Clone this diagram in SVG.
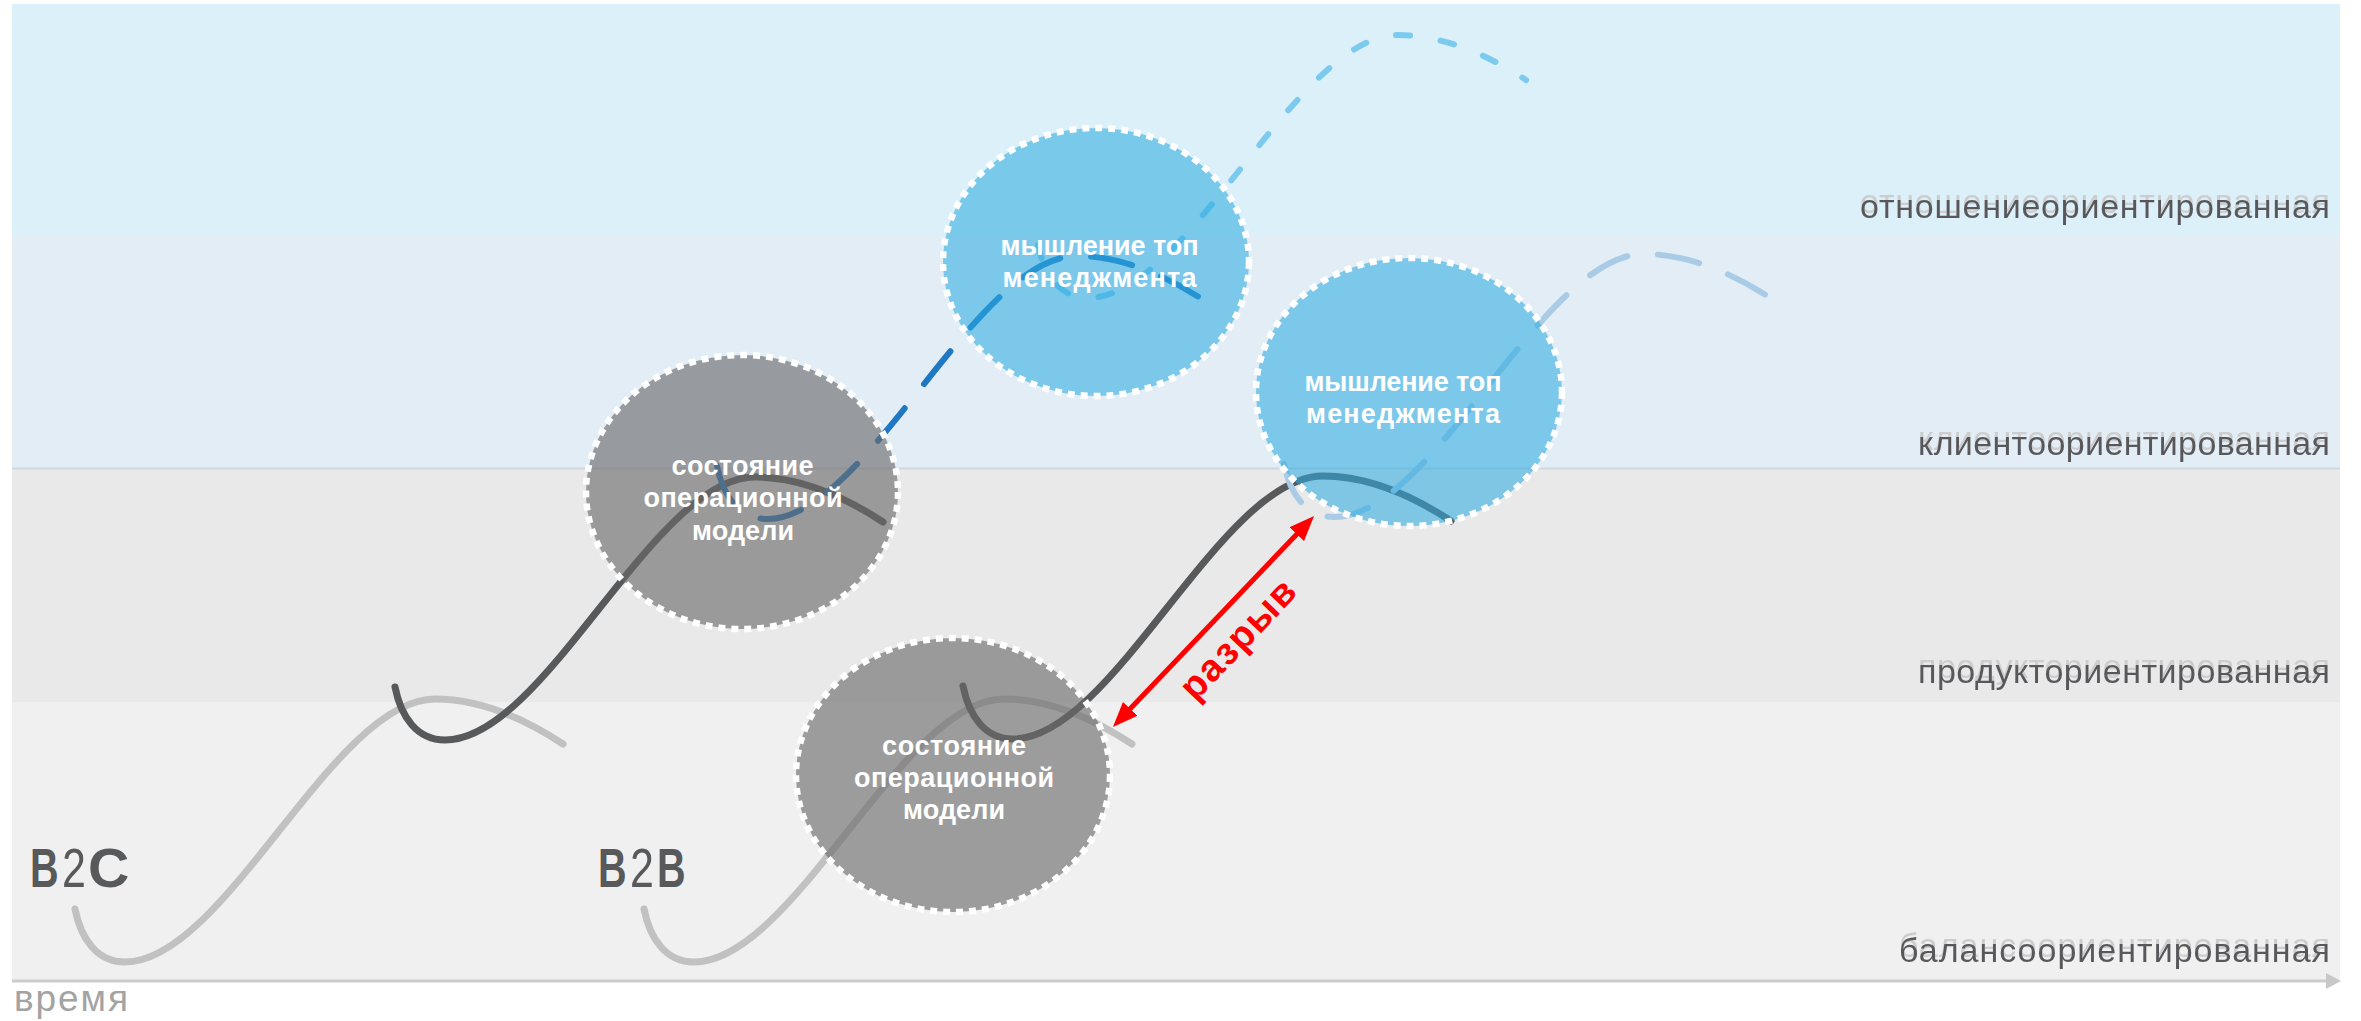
<svg xmlns="http://www.w3.org/2000/svg" width="2361" height="1021" viewBox="0 0 2361 1021">
<defs>
<style>
.band-label{font-family:"Liberation Sans","DejaVu Sans",sans-serif;font-size:34px;fill:#58595b;filter:url(#ghost)}
.node-text{font-family:"Liberation Sans","DejaVu Sans",sans-serif;font-size:27px;font-weight:bold;fill:#ffffff;text-anchor:middle}
.gray-node{fill:#6a6a6a;fill-opacity:0.625;stroke:#ffffff;stroke-width:6.5;stroke-dasharray:7 6}
.blue-node{fill:#2babe1;fill-opacity:0.56;stroke:#ffffff;stroke-width:6.5;stroke-dasharray:7 6}
.wave{fill:none;stroke-width:7;stroke-linecap:round}
.light{stroke:#c1c1c1}
.dark{stroke:#58595b}
.blue{stroke:#1f78c1;stroke-width:6;stroke-dasharray:42 31}
.skyblue{stroke:#7ccbee;stroke-width:6;stroke-dasharray:14 31}
.pale{stroke:#a9cbe6;stroke-width:6;stroke-dasharray:42 31}
.biz{font-family:"Liberation Sans","DejaVu Sans",sans-serif;font-size:55px;fill:#58595b}
.bold{font-weight:bold}
</style>
<filter id="ghost" x="-5%" y="-60%" width="110%" height="220%">
<feFlood flood-color="#cdcdcd" result="f"/>
<feComposite in="f" in2="SourceAlpha" operator="in" result="s"/>
<feOffset in="s" dy="-5" result="o"/>
<feMerge><feMergeNode in="o"/><feMergeNode in="SourceGraphic"/></feMerge>
</filter>
<marker id="redhead" markerUnits="userSpaceOnUse" markerWidth="25" markerHeight="20" refX="10" refY="10" orient="auto-start-reverse" viewBox="0 0 25 20">
<path d="M0,0 L25,10 L0,20 z" fill="#ff0000"/>
</marker>
</defs>

<g id="background">
<rect x="0" y="0" width="2361" height="1021" fill="#ffffff"/>
<rect x="12" y="4" width="2328" height="232" fill="#dcf0f9"/>
<rect x="12" y="236" width="2328" height="232" fill="#e2edf6"/>
<rect x="12" y="468" width="2328" height="234" fill="#e9e9e9"/>
<rect x="12" y="702" width="2328" height="278" fill="#f0f0f0"/>
<line x1="12" y1="468.5" x2="2340" y2="468.5" stroke="#cdd8e2" stroke-width="2"/>
<line x1="12" y1="981" x2="2330" y2="981" stroke="#cccccc" stroke-width="3"/>
<polygon points="2326,973 2341,981 2326,989" fill="#c8c8c8"/>
<text class="band-label" x="1860" y="218" textLength="470">отношениеориентированная</text>
<text class="band-label" x="1918" y="455" textLength="412">клиентоориентированная</text>
<text class="band-label" x="1918" y="683" textLength="412">продукториентированная</text>
<text class="band-label" x="1899" y="962" textLength="431">балансоориентированная</text>
<text x="14" y="1011" font-family="Liberation Sans, DejaVu Sans, sans-serif" font-size="37" fill="#a3a3a3" textLength="114">время</text>
</g>

<g id="connectors">
<path class="wave light" transform="translate(75,909)" d="M0,0 C6,30 22,53 50,53 C150,53 258,-210 360,-210 C405,-210 450,-190 488,-165"/>
<path class="wave light" transform="translate(644,909)" d="M0,0 C6,30 22,53 50,53 C150,53 258,-210 360,-210 C405,-210 450,-190 488,-165"/>
<path class="wave dark" transform="translate(395,687)" d="M0,0 C6,30 22,53 50,53 C150,53 258,-210 360,-210 C405,-210 450,-190 488,-165"/>
<path class="wave dark" transform="translate(963,686)" d="M0,0 C6,30 22,53 50,53 C150,53 258,-210 360,-210 C405,-210 450,-190 488,-165"/>
<path class="wave blue" transform="translate(717,466)" d="M0,0 C6,30 22,53 50,53 C150,53 258,-210 360,-210 C405,-210 450,-190 488,-165"/>
<path class="wave skyblue" transform="translate(1038,245)" d="M0,0 C6,30 22,53 50,53 C150,53 258,-210 360,-210 C405,-210 450,-190 488,-165"/>
<path class="wave pale" transform="translate(1284,464)" d="M0,0 C6,30 22,53 50,53 C150,53 258,-210 360,-210 C405,-210 450,-190 488,-165"/>
<line id="gap-arrow" x1="1123.3" y1="716.1" x2="1303.7" y2="526.9" stroke="#ff0000" stroke-width="5" marker-start="url(#redhead)" marker-end="url(#redhead)"/>
<text x="1247" y="648" transform="rotate(-46.4 1247 648)" font-family="Liberation Sans, DejaVu Sans, sans-serif" font-size="38" font-weight="bold" fill="#ff0000" text-anchor="middle" textLength="150">разрыв</text>
</g>

<g id="node-ops-b2c">
<ellipse class="gray-node" cx="742" cy="492" rx="156" ry="137"/>
<text class="node-text" x="742.5" y="475" textLength="142">состояние</text>
<text class="node-text" x="743" y="507" textLength="199">операционной</text>
<text class="node-text" x="743" y="540" textLength="102">модели</text>
</g>

<g id="node-ops-b2b">
<ellipse class="gray-node" cx="953" cy="775" rx="157" ry="137"/>
<text class="node-text" x="954" y="755" textLength="144">состояние</text>
<text class="node-text" x="954" y="787" textLength="200">операционной</text>
<text class="node-text" x="954" y="819" textLength="102">модели</text>
</g>

<g id="node-mgmt-b2c">
<ellipse class="blue-node" cx="1096" cy="262" rx="153" ry="134"/>
<text class="node-text" x="1099.5" y="255" textLength="198">мышление топ</text>
<text class="node-text" x="1099.5" y="287" textLength="194">менеджмента</text>
</g>

<g id="node-mgmt-b2b">
<ellipse class="blue-node" cx="1409" cy="392" rx="153" ry="134"/>
<text class="node-text" x="1403" y="391" textLength="197">мышление топ</text>
<text class="node-text" x="1403" y="423" textLength="194">менеджмента</text>
</g>

<g id="labels">
<text class="biz bold" transform="translate(30,887) scale(0.72,1)">B</text>
<text class="biz" transform="translate(62,887) scale(0.78,1)">2</text>
<text class="biz bold" transform="translate(88,887) scale(1.04,1)">C</text>
<text class="biz bold" transform="translate(598,887) scale(0.72,1)">B</text>
<text class="biz" transform="translate(630,887) scale(0.78,1)">2</text>
<text class="biz bold" transform="translate(657,887) scale(0.72,1)">B</text>
</g>
</svg>
